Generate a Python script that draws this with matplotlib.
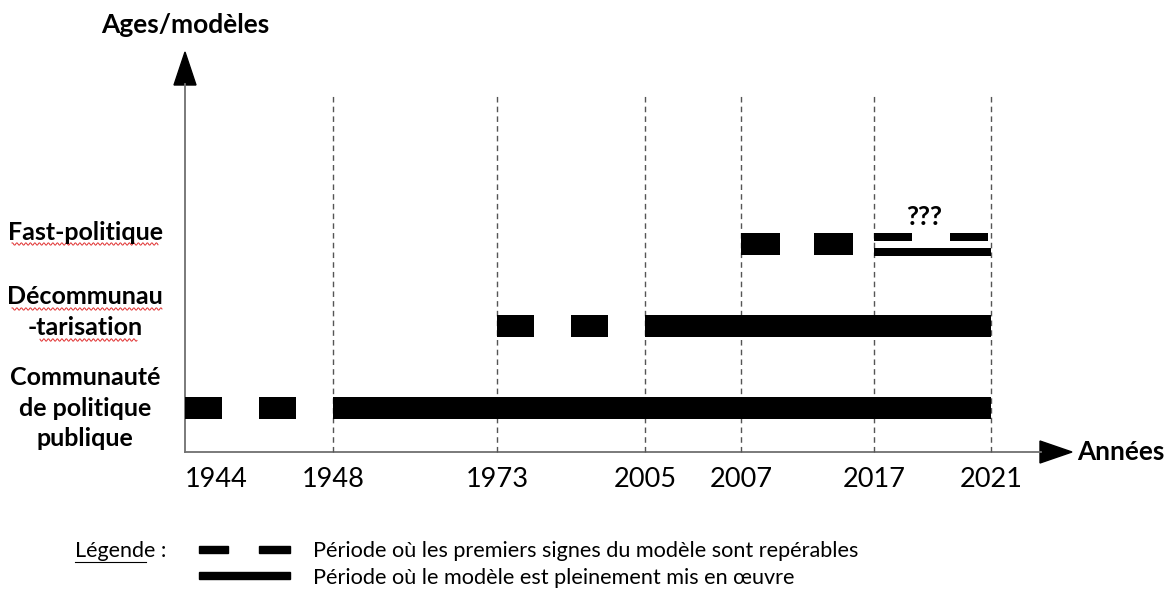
import matplotlib.pyplot as plt
import numpy as np
from matplotlib.patches import Polygon, Rectangle

plt.rcParams['font.family'] = ['Lato', 'DejaVu Sans']

# axe des années : échelle schématique (non proportionnelle)
tick_years = [1944, 1948, 1973, 2005, 2007, 2017, 2021]
tick_px = [185, 333, 497, 645, 741, 874, 991]
guide_years = [1948, 1973, 2005, 2007, 2017, 2021]

models = ['Communauté\nde politique\npublique', 'Décommunau\n-tarisation', 'Fast-politique']
model_label_y = [408, 312, 233]

# périodes (début, fin) en années
communaute_signs = [(1944, 1945), (1946, 1947)]
communaute_full = [(1948, 2021)]
decom_signs = [(1973, 1981), (1989, 1997)]
decom_full = [(2005, 2021)]
fast_signs = [(2007, 2009.9), (2012.5, 2015.4)]
fast_unsure_signs = [(2017, 2018.3), (2019.6, 2020.9)]
fast_unsure_full = [(2017, 2021)]

legend_texts = ['Période où les premiers signes du modèle sont repérables',
                'Période où le modèle est pleinement mis en œuvre']


def spans(periods):
    return [(a, b - a) for a, b in periods]


fig = plt.figure(figsize=(11.73, 5.9), dpi=100)

# calque en pixels pour les flèches, textes et légende
deco = fig.add_axes([0, 0, 1, 1])
deco.set_xlim(0, 1173)
deco.set_ylim(590, 0)
deco.axis('off')

ax = fig.add_axes([185 / 1173, (590 - 452) / 590, (991 - 185) / 1173, (452 - 95) / 590])
ax.set_xscale('function', functions=(lambda x: np.interp(x, tick_years, tick_px),
                                     lambda p: np.interp(p, tick_px, tick_years)))
ax.set_xlim(1944, 2021)
ax.set_ylim(-0.537, 3.817)
for s in ax.spines.values():
    s.set_visible(False)
ax.set_facecolor('none')

for yr in guide_years:
    ax.axvline(yr, color='#555555', lw=1, ls=(0, (4, 3)), zorder=1, clip_on=False)

thick = 0.27
thin = 0.1
ax.broken_barh(spans(communaute_signs + communaute_full), (0 - thick / 2, thick), facecolor='black', zorder=3)
ax.broken_barh(spans(decom_signs + decom_full), (1 - thick / 2, thick), facecolor='black', zorder=3)
ax.broken_barh(spans(fast_signs), (2 - thick / 2, thick), facecolor='black', zorder=3)
ax.broken_barh(spans(fast_unsure_signs), (2.085 - thin / 2, thin), facecolor='black', zorder=3)
ax.broken_barh(spans(fast_unsure_full), (1.902 - thin / 2, thin), facecolor='black', zorder=3)
ax.text(np.mean([2017, 2021]) - 0.3, 2.33, '???', ha='center', va='center',
        fontsize=19, fontweight='bold')

ax.set_yticks([])
ax.set_xticks(tick_years)
ax.set_xticklabels([str(y) for y in tick_years], fontsize=19.5)
ax.tick_params(axis='x', length=0, pad=11)
ax.get_xticklabels()[0].set_horizontalalignment('left')

# axes fléchés
deco.plot([185, 185], [452, 84], color='#707070', lw=1.3)
deco.add_patch(Polygon([(174, 85), (196, 85), (185, 52)], closed=True, color='black'))
deco.plot([185, 1041], [452, 452], color='#707070', lw=1.3)
deco.add_patch(Polygon([(1040, 441), (1040, 463), (1072, 452)], closed=True, color='black'))
deco.text(185, 25, 'Ages/modèles', ha='center', va='center', fontsize=19, fontweight='bold')
deco.text(1077, 452, 'Années', ha='left', va='center', fontsize=18.8, fontweight='bold')

for label, yp in zip(models, model_label_y):
    deco.text(85, yp, label, ha='center', va='center', fontsize=18, fontweight='bold',
              linespacing=1.4)

# soulignements ondulés (correcteur)
for x0, x1, yb in [(12, 158, 244), (12, 162, 309), (40, 137, 340)]:
    xs = np.linspace(x0, x1, 200)
    deco.plot(xs, yb + 1.2 * np.sin(xs * 2 * np.pi / 4.5), color='#e03030', lw=0.7)

# légende
deco.text(75, 551, 'Légende :', ha='left', va='center', fontsize=15.5)
deco.plot([75, 146], [562, 562], color='black', lw=0.8)
for x0, x1 in [(199, 228), (259, 290)]:
    deco.add_patch(Rectangle((x0, 545.5), x1 - x0, 7, color='black'))
deco.add_patch(Rectangle((199, 571.5), 91, 7, color='black'))
deco.text(313, 551, legend_texts[0], ha='left', va='center', fontsize=15.6)
deco.text(313, 578, legend_texts[1], ha='left', va='center', fontsize=15.6)

fig.savefig('out.png', dpi=100)
